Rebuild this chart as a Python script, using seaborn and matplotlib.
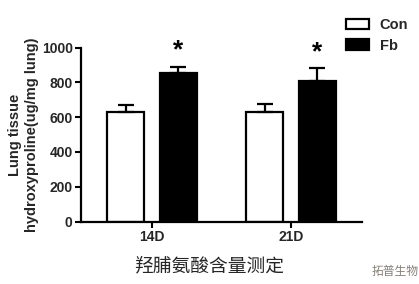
import matplotlib
matplotlib.use("Agg")
import matplotlib.pyplot as plt
import seaborn as sns
import pandas as pd
import numpy as np

# ---- data ----
days = ["14D", "21D"]
groups = ["Con", "Fb"]
con_values = [630, 630]
fb_values = [852, 806]
con_errors = [40, 45]
fb_errors = [38, 75]
significant = {"Fb": ["14D", "21D"]}
y_ticks = [0, 200, 400, 600, 800, 1000]
ylabel = "Lung tissue\nhydroxyproline(ug/mg lung)"
title = "羟脯氨酸含量测定"
watermark = "拓普生物"

df = pd.DataFrame({
    "day": days * 2,
    "group": [groups[0]] * len(days) + [groups[1]] * len(days),
    "value": con_values + fb_values,
    "err": con_errors + fb_errors,
})

sns.set_style("ticks")
plt.rcParams["font.family"] = ["Liberation Sans", "DejaVu Sans"]

fig = plt.figure(figsize=(4.19, 2.84), dpi=100)
ax = fig.add_axes([81 / 419, 1 - 221.5 / 284, (362 - 81) / 419, (221.5 - 47.7) / 284])

palette = {"Con": "white", "Fb": "black"}
sns.barplot(data=df, x="day", y="value", hue="group", order=days, hue_order=groups,
            palette=palette, errorbar=None, width=0.76, gap=0.3,
            edgecolor="black", linewidth=1.6, ax=ax, legend=True)

# error bars (upper only) and significance stars using bar positions
for container, grp in zip(ax.containers, groups):
    sub = df[df["group"] == grp].set_index("day").loc[days]
    for bar, day in zip(container, days):
        xc = bar.get_x() + bar.get_width() / 2
        v = sub.loc[day, "value"]
        e = sub.loc[day, "err"]
        ax.errorbar([xc], [v], yerr=[[0], [e]], fmt="none", ecolor="black",
                    elinewidth=1.6, capsize=6, capthick=1.6, zorder=1)
        if day in significant.get(grp, []):
            ax.text(xc, v + e + 25, "*", ha="center", va="bottom",
                    fontsize=19, fontweight="bold", color="black", clip_on=False)

ax.set_ylim(0, 1000)
ax.set_xlim(-0.51, 1.51)
ax.set_yticks(y_ticks)
ax.set_xlabel("")
ax.set_ylabel(ylabel, fontsize=10.5, fontweight="bold", labelpad=2, linespacing=1.3)
for lab in ax.get_xticklabels() + ax.get_yticklabels():
    lab.set_fontweight("bold")
    lab.set_fontsize(10)
ax.tick_params(axis="both", length=4, width=1.5, color="black", pad=2)
for s in ["top", "right"]:
    ax.spines[s].set_visible(False)
for s in ["left", "bottom"]:
    ax.spines[s].set_linewidth(1.6)
    ax.spines[s].set_color("black")

handles, labels = ax.get_legend_handles_labels()
ax.legend_.remove()
fig.legend(handles, labels, loc="upper left", bbox_to_anchor=(346 / 419, 1 - 18 / 284),
           frameon=False, prop={"weight": "bold", "size": 10.5},
           handlelength=1.55, handleheight=0.75, handletextpad=0.75,
           labelspacing=0.45, borderpad=0, borderaxespad=0)

fig.text(209 / 419, 1 - 266 / 284, title, ha="center", va="center",
         fontsize=13.5, family=["Noto Sans CJK SC", "DejaVu Sans"])
fig.text(395 / 419, 1 - 271 / 284, watermark, ha="center", va="center",
         fontsize=8.5, color="#857f78", family=["Noto Sans CJK SC", "DejaVu Sans"])

fig.savefig("out.png", dpi=100, facecolor="white")
